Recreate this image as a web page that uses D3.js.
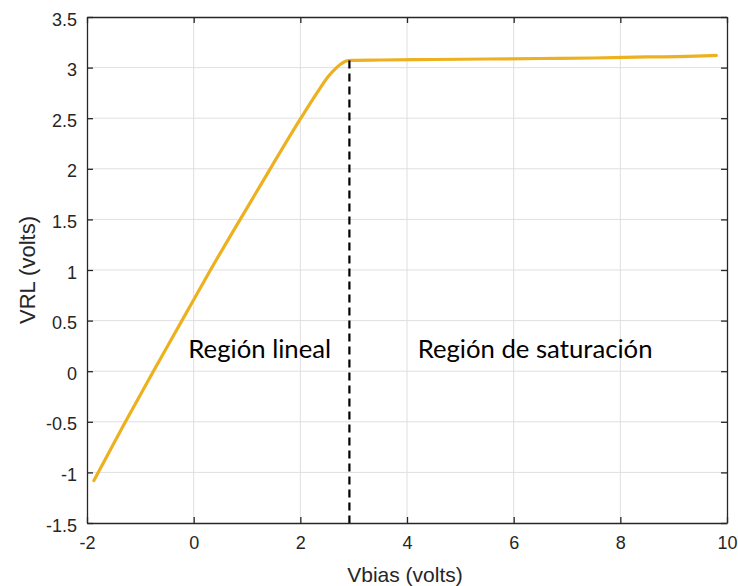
<!DOCTYPE html>
<html>
<head>
<meta charset="utf-8">
<script src="https://cdn.jsdelivr.net/npm/d3@7/dist/d3.min.js"></script>
<style>
  html, body { margin: 0; padding: 0; background: #fff; }
  svg { display: block; }
</style>
</head>
<body>
<svg id="chart" width="738" height="586"></svg>
<script>
// ---- data ----
const vbias = [-1.87, -1.3, -0.755, -0.22, 0.315, 1.2, 2.01, 2.3, 2.52, 2.66, 2.76, 2.84, 2.9, 2.97, 3.5, 4.5, 5.5, 6.5, 7.5, 8.5, 9.25, 9.8];
const vrl   = [-1.08, -0.52, 0.0, 0.5, 1.0, 1.79, 2.5, 2.74, 2.91, 2.99, 3.035, 3.06, 3.07, 3.072, 3.075, 3.08, 3.085, 3.09, 3.095, 3.105, 3.11, 3.12];
const xTicks = [-2, 0, 2, 4, 6, 8, 10];
const yTicks = [-1.5, -1, -0.5, 0, 0.5, 1, 1.5, 2, 2.5, 3, 3.5];
const boundaryX = 2.92;
const boundaryTop = 3.07;
const regionLabels = ["Región lineal", "Región de saturación"];
const regionLabelX = [-0.1, 4.2];
const regionLabelY = 0.13;
const xLabel = "Vbias (volts)";
const yLabel = "VRL (volts)";

// ---- layout ----
const L = 87, R = 727, T = 17, B = 523;
const svg = d3.select("#chart");
const x = d3.scaleLinear().domain([-2, 10]).range([L, R]);
const y = d3.scaleLinear().domain([-1.5, 3.5]).range([B, T]);
const axisColor = "#262626";
const tickFont = "'Liberation Sans', Arial, Helvetica, sans-serif";

// grid
const grid = svg.append("g");
grid.selectAll(".gx").data(xTicks.slice(1, -1)).enter().append("line")
  .attr("x1", d => x(d)).attr("x2", d => x(d)).attr("y1", T).attr("y2", B)
  .attr("stroke", "#dfdfdf").attr("stroke-width", 1);
grid.selectAll(".gy").data(yTicks.slice(1, -1)).enter().append("line")
  .attr("y1", d => y(d)).attr("y2", d => y(d)).attr("x1", L).attr("x2", R)
  .attr("stroke", "#dfdfdf").attr("stroke-width", 1);

// data line
const line = d3.line().x((d, i) => x(vbias[i])).y((d, i) => y(vrl[i])).curve(d3.curveMonotoneX);
svg.append("path").datum(vbias).attr("d", line)
  .attr("fill", "none").attr("stroke", "#EDB120").attr("stroke-width", 3.2)
  .attr("stroke-linejoin", "round").attr("stroke-linecap", "round");

// dashed boundary
svg.append("line")
  .attr("x1", x(boundaryX)).attr("x2", x(boundaryX))
  .attr("y1", y(boundaryTop)).attr("y2", y(-1.5))
  .attr("stroke", "#000").attr("stroke-width", 2.2).attr("stroke-dasharray", "8,5");

// axes (box with inward ticks on all sides)
const tl = 6;
const fmt = d => String(d);
const axB = d3.axisBottom(x).tickValues(xTicks).tickSizeInner(-tl).tickSizeOuter(0).tickPadding(13).tickFormat(fmt);
const axT = d3.axisTop(x).tickValues(xTicks).tickSizeInner(-tl).tickSizeOuter(0).tickFormat("");
const axLft = d3.axisLeft(y).tickValues(yTicks).tickSizeInner(-tl).tickSizeOuter(0).tickPadding(10).tickFormat(fmt);
const axRt = d3.axisRight(y).tickValues(yTicks).tickSizeInner(-tl).tickSizeOuter(0).tickFormat("");

function style(g) {
  g.select(".domain").attr("stroke", axisColor).attr("stroke-width", 1.3);
  g.selectAll(".tick line").attr("stroke", axisColor).attr("stroke-width", 1.3);
  g.selectAll(".tick text").attr("fill", axisColor).attr("font-family", tickFont).attr("font-size", 18);
}
svg.append("g").attr("transform", `translate(0,${B})`).call(axB).call(style);
svg.append("g").attr("transform", `translate(0,${T})`).call(axT).call(style);
svg.append("g").attr("transform", `translate(${L},0)`).call(axLft).call(style)
  .selectAll(".tick text").attr("dy", "0.45em");
svg.append("g").attr("transform", `translate(${R},0)`).call(axRt).call(style);

// axis labels
svg.append("text").attr("x", (L + R) / 2 - 2).attr("y", 582)
  .attr("text-anchor", "middle").attr("fill", axisColor)
  .attr("font-family", tickFont).attr("font-size", 21).text(xLabel);
svg.append("text").attr("transform", `translate(35,${(T + B) / 2}) rotate(-90)`)
  .attr("text-anchor", "middle").attr("fill", axisColor)
  .attr("font-family", tickFont).attr("font-size", 22).text(yLabel);

// region annotations
svg.selectAll(".region").data(regionLabels).enter().append("text")
  .attr("x", (d, i) => x(regionLabelX[i])).attr("y", y(regionLabelY))
  .attr("fill", "#000").attr("font-family", "Lato, 'Open Sans', sans-serif")
  .attr("font-size", 25.7).text(d => d);
</script>
</body>
</html>
